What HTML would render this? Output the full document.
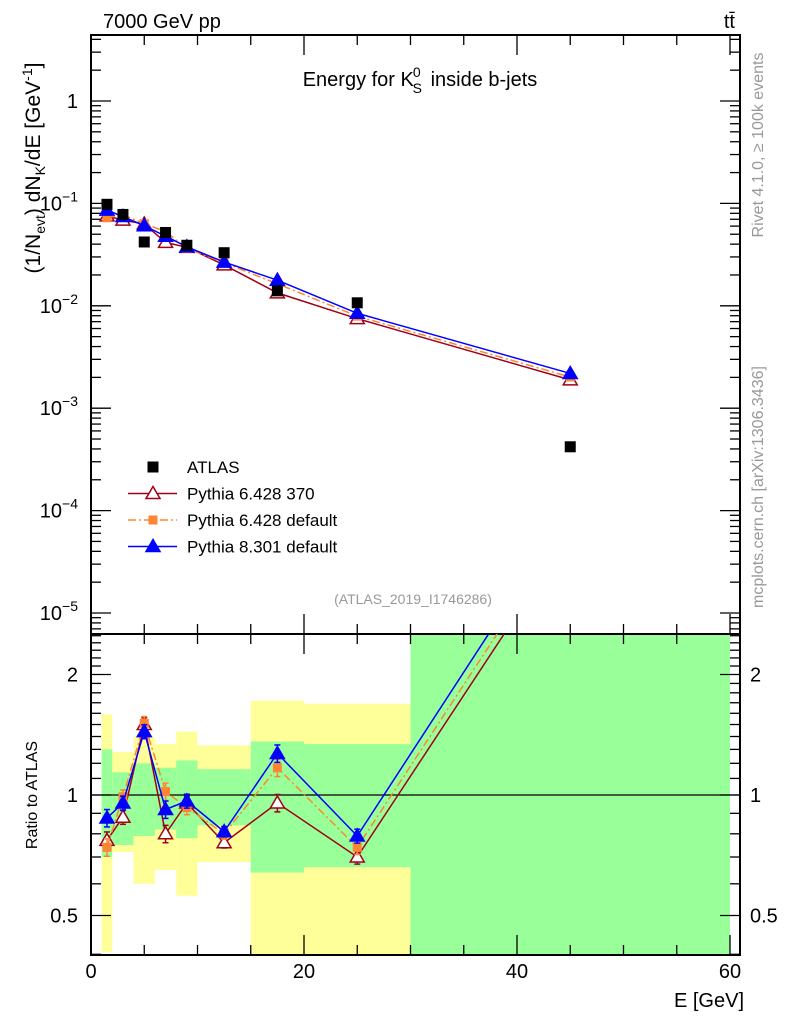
<!DOCTYPE html>
<html><head><meta charset="utf-8"><style>
body{margin:0;background:#fff}
svg text{font-family:"Liberation Sans",sans-serif}
</style></head><body>
<svg id="c" width="786" height="1024" xmlns="http://www.w3.org/2000/svg">
<defs>
<clipPath id="cm"><rect x="91" y="35" width="649" height="599"/></clipPath>
<clipPath id="cr"><rect x="91" y="634" width="649" height="321"/></clipPath>
</defs>
<g id="bands" clip-path="url(#cr)"></g>
<g id="marks"></g>
<text x="103" y="28" font-size="20">7000 GeV pp</text>
<text x="735" y="28" font-size="20" text-anchor="end">tt̄</text>
<text x="420" y="86" font-size="20" text-anchor="middle">Energy for K<tspan font-size="14" dy="-9" dx="-1">0</tspan><tspan font-size="14" dy="16" dx="-8">S</tspan><tspan dy="-7" dx="3"> inside b-jets</tspan></text>
<text x="413" y="604" font-size="14" fill="#999" text-anchor="middle">(ATLAS_2019_I1746286)</text>
<text transform="translate(40,168) rotate(-90)" font-size="21" text-anchor="middle">(1/N<tspan font-size="14" dy="5">evt</tspan><tspan dy="-5">) dN</tspan><tspan font-size="14" dy="5">K</tspan><tspan dy="-5">/dE [GeV</tspan><tspan font-size="14" dy="-8">-1</tspan><tspan dy="8">]</tspan></text>
<text transform="translate(37,795) rotate(-90)" font-size="16" text-anchor="middle">Ratio to ATLAS</text>
<text x="744" y="1007" font-size="20" text-anchor="end">E [GeV]</text>
<text transform="translate(763,145) rotate(-90)" font-size="16" fill="#999" text-anchor="middle">Rivet 4.1.0, ≥ 100k events</text>
<text transform="translate(763,487) rotate(-90)" font-size="16" fill="#999" text-anchor="middle">mcplots.cern.ch [arXiv:1306.3436]</text>
</svg>
<script>
const binLo=[1,2,4,6,8,10,15,20,30];
const binHi=[2,4,6,8,10,15,20,30,60];
const energies=[1.5,3,5,7,9,12.5,17.5,25,45];
const atlas=[0.098,0.078,0.042,0.052,0.039,0.033,0.014,0.0107,0.00042];
const greenLo=[0.70,0.75,0.79,0.82,0.78,0.84,0.64,0.66,0.01];
const greenHi=[1.30,1.14,1.20,1.17,1.22,1.16,1.36,1.34,100];
const yellowLo=[0.405,0.72,0.60,0.65,0.56,0.68,0.01,0.01,0.01];
const yellowHi=[1.59,1.28,1.40,1.34,1.44,1.33,1.72,1.69,100];
const ratioP6370=[0.77,0.88,1.50,0.80,0.955,0.76,0.955,0.70,4.5];
const ratioP6def=[0.74,0.99,1.51,1.02,0.93,0.80,1.17,0.74,4.8];
const ratioP8=[0.876,0.955,1.44,0.92,0.966,0.81,1.27,0.79,5.2];
const ratioErr=[0.05,0.04,0.04,0.05,0.04,0.03,0.05,0.04,0.2];
const xTicks=[0,20,40,60];
const yDecades=[-5,-4,-3,-2,-1,0];
const ratioTicks=[0.5,1,2];

const NS="http://www.w3.org/2000/svg";
const svg=document.getElementById('c');
const marks=document.getElementById('marks');
const bands=document.getElementById('bands');
const X=e=>91+e*10.65;
const Y=v=>101-Math.log10(v)*102.4;
const R=r=>795-Math.log2(r)*120.5;
function mk(tag,attrs,parent){const el=document.createElementNS(NS,tag);for(const k in attrs)el.setAttribute(k,attrs[k]);(parent||marks).appendChild(el);return el;}

for(let i=0;i<binLo.length;i++){
 const y=mk('rect',{x:X(binLo[i]),y:R(Math.min(yellowHi[i],3)),width:X(binHi[i])-X(binLo[i]),height:R(Math.max(yellowLo[i],0.3))-R(Math.min(yellowHi[i],3)),fill:'#ffff99'},bands);
 
 
 const g=mk('rect',{x:X(binLo[i]),y:R(Math.min(greenHi[i],3)),width:X(binHi[i])-X(binLo[i]),height:R(Math.max(greenLo[i],0.3))-R(Math.min(greenHi[i],3)),fill:'#99ff99'},bands);
 
 
}
const f1=mk('rect',{x:91,y:35,width:649,height:599,fill:'none',stroke:'#000','stroke-width':2});


const f2=mk('rect',{x:91,y:634,width:649,height:321,fill:'none',stroke:'#000','stroke-width':2});


const one=mk('line',{x1:91,x2:740,y1:R(1),y2:R(1),stroke:'#000','stroke-width':1.3});



for(let e=0;e<=60;e+=5){
 const maj=e%20===0,L=maj?20:10;
 for(const [yb,yt] of [[955,955-L],[634,634-L],[35,35+L]]){mk('line',{x1:X(e),x2:X(e),y1:yb,y2:yt,stroke:'#000','stroke-width':1.3});}
 if(e<60){mk('line',{x1:X(e),x2:X(e),y1:634,y2:634+(maj?20:10),stroke:'#000','stroke-width':1.3});}
}
xTicks.forEach(t=>{const tx=mk('text',{x:X(t),y:978,'font-size':20,'text-anchor':'middle'});tx.textContent=t;

});
for(let d=-6;d<=1;d++){for(let m=1;m<10;m++){const v=m*Math.pow(10,d);const y=Y(v);if(y<35||y>634)continue;const L=m===1?20:10;
 mk('line',{x1:91,x2:91+L,y1:y,y2:y,stroke:'#000','stroke-width':1.3});mk('line',{x1:740,x2:740-L,y1:y,y2:y,stroke:'#000','stroke-width':1.3});}}
yDecades.forEach(d=>{const y=Y(Math.pow(10,d));const t=mk('text',{x:78,y:y+7,'font-size':20,'text-anchor':'end'});
 if(d===0)t.textContent='1';else{t.textContent='10';const s=mk('tspan',{'font-size':14,dy:-9},t);s.textContent=String(d).replace('-','−');}
 
 });
const rMinor=[0.4,0.5,0.6,0.7,0.8,0.9,1,1.1,1.2,1.3,1.4,1.5,1.6,1.7,1.8,1.9,2,2.1,2.2,2.3,2.4,2.5];
rMinor.forEach(r=>{const y=R(r);if(y<634||y>955)return;const L=ratioTicks.includes(r)?20:10;
 mk('line',{x1:91,x2:91+L,y1:y,y2:y,stroke:'#000','stroke-width':1.3});mk('line',{x1:740,x2:740-L,y1:y,y2:y,stroke:'#000','stroke-width':1.3});});
ratioTicks.forEach(r=>{for(const [x,a] of [[78,'end'],[750,'start']]){const t=mk('text',{x:x,y:R(r)+7,'font-size':20,'text-anchor':a});t.textContent=r;
 
 }});

const series=[
 {name:'pythia6-370',ratio:ratioP6370,color:'#a00018',dash:'',marker:'otri'},
 {name:'pythia6-default',ratio:ratioP6def,color:'#ff8533',dash:'8,3,2,3',marker:'sq'},
 {name:'pythia8-default',ratio:ratioP8,color:'#0000ff',dash:'',marker:'tri'}];
function marker(type,x,y,c,g){
 if(type==='sq')return mk('rect',{x:x-4.5,y:y-4.5,width:9,height:9,fill:c},g);
 if(type==='box')return mk('rect',{x:x-5.5,y:y-5.5,width:11,height:11,fill:c},g);
 const p=`${x},${y-7} ${x-7},${y+5} ${x+7},${y+5}`;
 return mk('polygon',{points:p,fill:type==='tri'?c:'#fff',stroke:c,'stroke-width':1.5},g);
}
series.forEach(s=>{
 const gm=mk('g',{'clip-path':'url(#cm)'});
 
 
 const gr=mk('g',{'clip-path':'url(#cr)'});
 
 
 const pm=energies.map((e,i)=>`${X(e)},${Y(atlas[i]*s.ratio[i])}`).join(' ');
 const pr=energies.map((e,i)=>`${X(e)},${R(s.ratio[i])}`).join(' ');
 mk('polyline',{points:pm,fill:'none',stroke:s.color,'stroke-width':1.5,'stroke-dasharray':s.dash},gm);
 mk('polyline',{points:pr,fill:'none',stroke:s.color,'stroke-width':1.5,'stroke-dasharray':s.dash},gr);
 energies.forEach((e,i)=>{
  const x=X(e);
  const y0=R(s.ratio[i]*(1+ratioErr[i])),y1=R(s.ratio[i]*(1-ratioErr[i]));
  mk('line',{x1:x,x2:x,y1:y0,y2:y1,stroke:s.color,'stroke-width':1.5},gr);
  mk('line',{x1:x-3,x2:x+3,y1:y0,y2:y0,stroke:s.color,'stroke-width':1.5},gr);
  mk('line',{x1:x-3,x2:x+3,y1:y1,y2:y1,stroke:s.color,'stroke-width':1.5},gr);
  const a=marker(s.marker,x,Y(atlas[i]*s.ratio[i]),s.color,gm);
  
  
  const b=marker(s.marker,x,R(s.ratio[i]),s.color,gr);
  
  
 });
});
energies.forEach((e,i)=>{const m=marker('box',X(e),Y(atlas[i]),'#000',marks);
 
 });

const leg=[['ATLAS','#000','','box',false],['Pythia 6.428 370','#a00018','','otri',true],['Pythia 6.428 default','#ff8533','8,3,2,3','sq',true],['Pythia 8.301 default','#0000ff','','tri',true]];
leg.forEach((l,i)=>{const y=467+i*26.5;const g=mk('g',{});
 
 
 if(l[4])mk('line',{x1:128,x2:177,y1:y,y2:y,stroke:l[1],'stroke-width':1.5,'stroke-dasharray':l[2]},g);
 marker(l[3],153,y,l[1],g);
 const t=mk('text',{x:187,y:y+6,'font-size':17},g);t.textContent=l[0];});
</script>
</body></html>
